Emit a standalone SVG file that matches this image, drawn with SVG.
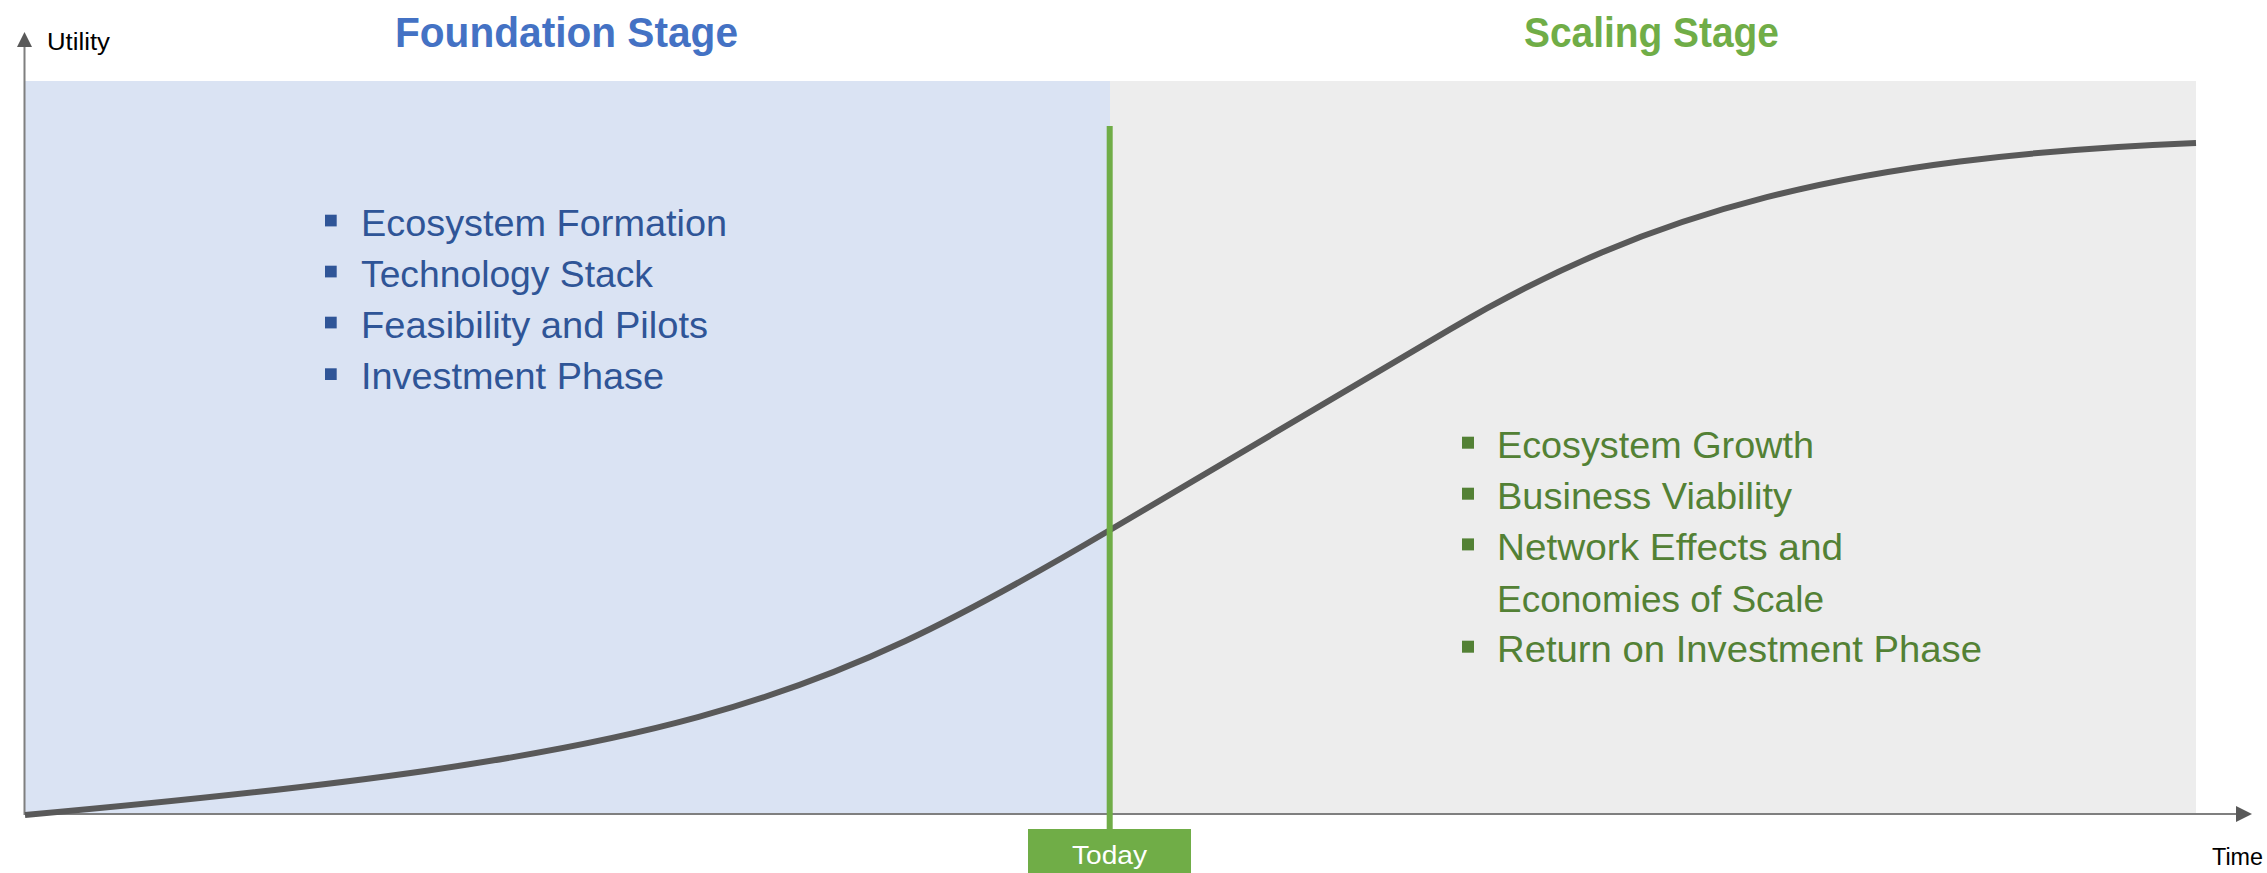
<svg xmlns="http://www.w3.org/2000/svg" width="2267" height="873" viewBox="0 0 2267 873">
<style>
  text { font-family: "Liberation Sans", Arial, sans-serif; }
  .axis { stroke: #7f7f7f; stroke-width: 2; fill: none; }
  .head { fill: #595959; }
  .title { font-weight: bold; font-size: 42px; }
  .lbl { font-size: 23px; fill: #000; }
  .blt { font-size: 36px; }
  .blue { fill: #2f5597; }
  .green { fill: #538135; }
</style>
<rect width="2267" height="873" fill="#ffffff"/>
<g id="foundation-region">
  <rect x="25" y="81" width="1085" height="733" fill="#dae3f3"/>
</g>
<g id="scaling-region">
  <rect x="1110" y="81" width="1086" height="733" fill="#ededed"/>
</g>
<g id="titles">
  <text class="title" x="395" y="46.7" textLength="343" lengthAdjust="spacingAndGlyphs" fill="#4472c4">Foundation Stage</text>
  <text class="title" x="1524" y="46.7" textLength="255" lengthAdjust="spacingAndGlyphs" fill="#70ad47">Scaling Stage</text>
</g>
<g id="connectors">
  <line class="axis" x1="24.5" y1="46" x2="24.5" y2="815"/>
  <polygon class="head" points="24.5,32 17,47 32,47"/>
  <line class="axis" x1="24" y1="814" x2="2237" y2="814"/>
  <polygon class="head" points="2252,814 2236,806 2236,822"/>
  <path id="s-curve" d="M25,815 C675,756.5 810,707 1110,530 L1450,329.4 C1650,211.4 1846,157 2196,143" fill="none" stroke="#595959" stroke-width="6"/>
  <line x1="1109.7" y1="126" x2="1109.7" y2="830" stroke="#70ad47" stroke-width="6"/>
</g>
<g id="axis-labels">
  <text class="lbl" x="47" y="50" textLength="63" lengthAdjust="spacingAndGlyphs">Utility</text>
  <text class="lbl" x="2212" y="865" textLength="51" lengthAdjust="spacingAndGlyphs">Time</text>
</g>
<g id="today">
  <rect x="1028" y="829" width="163" height="44" fill="#70ad47"/>
  <text x="1109.5" y="864" font-size="26" fill="#ffffff" text-anchor="middle" textLength="75" lengthAdjust="spacingAndGlyphs">Today</text>
</g>
<g id="foundation-list">
  <rect class="blue" x="325" y="214.7" width="11.7" height="11.7"/>
  <rect class="blue" x="325" y="265.7" width="11.7" height="11.7"/>
  <rect class="blue" x="325" y="316.7" width="11.7" height="11.7"/>
  <rect class="blue" x="325" y="368.3" width="11.7" height="11.7"/>
  <text class="blt blue" x="361" y="235.7" textLength="366" lengthAdjust="spacingAndGlyphs">Ecosystem Formation</text>
  <text class="blt blue" x="361" y="286.7" textLength="292" lengthAdjust="spacingAndGlyphs">Technology Stack</text>
  <text class="blt blue" x="361" y="337.7" textLength="347" lengthAdjust="spacingAndGlyphs">Feasibility and Pilots</text>
  <text class="blt blue" x="361" y="389.3" textLength="303" lengthAdjust="spacingAndGlyphs">Investment Phase</text>
</g>
<g id="scaling-list">
  <rect class="green" x="1462" y="436.7" width="12" height="12"/>
  <rect class="green" x="1462" y="487.7" width="12" height="12"/>
  <rect class="green" x="1462" y="538.4" width="12" height="12"/>
  <rect class="green" x="1462" y="640.7" width="12" height="12"/>
  <text class="blt green" x="1497" y="458.3" textLength="317" lengthAdjust="spacingAndGlyphs">Ecosystem Growth</text>
  <text class="blt green" x="1497" y="509.3" textLength="295" lengthAdjust="spacingAndGlyphs">Business Viability</text>
  <text class="blt green" x="1497" y="560" textLength="346" lengthAdjust="spacingAndGlyphs">Network Effects and</text>
  <text class="blt green" x="1497" y="611.7" textLength="327" lengthAdjust="spacingAndGlyphs">Economies of Scale</text>
  <text class="blt green" x="1497" y="662.3" textLength="485" lengthAdjust="spacingAndGlyphs">Return on Investment Phase</text>
</g>
</svg>
